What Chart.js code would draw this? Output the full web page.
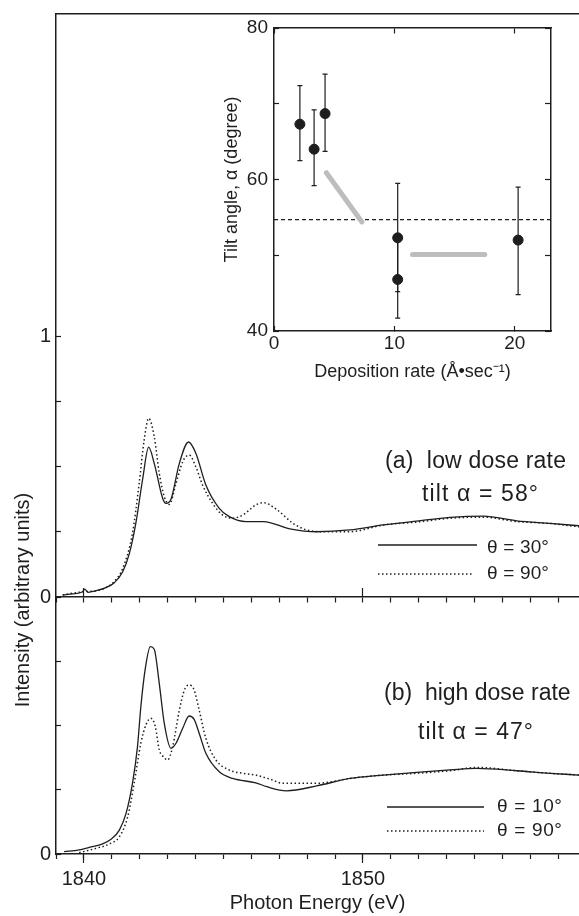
<!DOCTYPE html>
<html lang="en">
<head>
<meta charset="UTF-8" />
<title>S K-edge spectra and tilt angle</title>
<script src="https://cdn.jsdelivr.net/npm/chart.js"></script>
<style>
  html, body { margin: 0; padding: 0; background: #fff; }
  #wrap { position: relative; width: 579px; height: 916px; }
  #mainChart { position: absolute; left: 0; top: 0; }
  #inset { position: absolute; left: 200px; top: 0; }
</style>
</head>
<body>
<div id="wrap">
  <canvas id="mainChart" width="579" height="916"></canvas>
  <canvas id="inset" width="379" height="400"></canvas>
</div>
<script>
  // (a) low dose rate, theta = 30 (solid) and 90 (dotted)
  const aSolidE = [1839.24, 1839.6, 1839.95, 1840.03, 1840.15, 1840.43, 1840.79, 1841.09, 1841.39, 1841.63, 1841.86, 1842.1, 1842.32, 1842.52, 1842.82, 1842.94, 1843.12, 1843.42, 1843.75, 1844.01, 1844.37, 1844.85, 1845.21, 1845.81, 1846.43, 1847.38, 1848.34, 1849.53, 1850.73, 1851.92, 1853.12, 1854.31, 1855.51, 1856.7, 1857.74];
  const aSolidI = [0.008, 0.012, 0.02, 0.03, 0.018, 0.024, 0.036, 0.055, 0.097, 0.168, 0.283, 0.45, 0.576, 0.514, 0.38, 0.36, 0.376, 0.514, 0.596, 0.553, 0.431, 0.341, 0.309, 0.29, 0.29, 0.262, 0.251, 0.258, 0.277, 0.292, 0.306, 0.311, 0.293, 0.283, 0.274];
  const aDotE = [1839.24, 1839.95, 1840.43, 1840.79, 1841.09, 1841.39, 1841.74, 1841.98, 1842.16, 1842.32, 1842.52, 1842.7, 1842.88, 1843.06, 1843.3, 1843.54, 1843.77, 1844.01, 1844.25, 1844.61, 1844.97, 1845.33, 1845.69, 1846.16, 1846.43, 1846.9, 1847.5, 1847.98, 1848.7, 1849.53, 1850.73, 1851.92, 1853.12, 1854.31, 1855.51, 1856.7, 1857.74];
  const aDotI = [0.008, 0.02, 0.024, 0.036, 0.06, 0.11, 0.245, 0.437, 0.604, 0.687, 0.617, 0.476, 0.386, 0.356, 0.437, 0.52, 0.546, 0.501, 0.431, 0.36, 0.315, 0.303, 0.315, 0.354, 0.363, 0.337, 0.283, 0.258, 0.251, 0.251, 0.277, 0.288, 0.303, 0.307, 0.29, 0.283, 0.27];

  // (b) high dose rate, theta = 10 (solid) and 90 (dotted)
  const bSolidE = [1839.29, 1839.83, 1840.19, 1840.67, 1840.97, 1841.27, 1841.51, 1841.74, 1841.92, 1842.04, 1842.2, 1842.38, 1842.52, 1842.7, 1842.88, 1843.12, 1843.3, 1843.54, 1843.77, 1843.95, 1844.13, 1844.37, 1844.85, 1845.33, 1846.16, 1846.55, 1847.26, 1848.34, 1849.53, 1850.73, 1851.92, 1853.12, 1854.07, 1855.51, 1856.7, 1857.74];
  const bSolidI = [0.009, 0.016, 0.026, 0.039, 0.057, 0.093, 0.158, 0.275, 0.418, 0.573, 0.722, 0.807, 0.797, 0.664, 0.508, 0.411, 0.431, 0.489, 0.537, 0.524, 0.47, 0.392, 0.32, 0.294, 0.277, 0.262, 0.246, 0.265, 0.294, 0.307, 0.318, 0.327, 0.333, 0.324, 0.314, 0.307];
  const bDotE = [1839.83, 1840.43, 1840.91, 1841.27, 1841.57, 1841.8, 1842.04, 1842.22, 1842.4, 1842.56, 1842.7, 1842.84, 1843.0, 1843.18, 1843.42, 1843.6, 1843.77, 1843.95, 1844.13, 1844.37, 1844.73, 1845.21, 1845.69, 1846.16, 1846.67, 1847.14, 1848.34, 1849.53, 1850.73, 1851.92, 1853.12, 1854.07, 1855.51, 1856.7, 1857.74];
  const bDotI = [0.005, 0.022, 0.039, 0.067, 0.145, 0.275, 0.431, 0.502, 0.528, 0.495, 0.405, 0.379, 0.366, 0.418, 0.56, 0.638, 0.658, 0.638, 0.56, 0.45, 0.366, 0.327, 0.314, 0.307, 0.291, 0.275, 0.275, 0.294, 0.307, 0.314, 0.324, 0.337, 0.324, 0.314, 0.307];

  const eMin = 1839, eMax = 1857.74;
  const eTicks = [1839, 1840, 1841, 1842, 1843, 1844, 1845, 1846, 1847, 1848, 1849, 1850, 1851, 1852, 1853, 1854, 1855, 1856, 1857];
  const eLabels = [1840, 1850];
  const aMax = 2.242, bMax = 1.0;
  const aTicks = [0, 0.25, 0.5, 0.75, 1];
  const aLabels = [0, 1];
  const bTicks = [0, 0.25, 0.5, 0.75];
  const bLabels = [0];

  // inset: tilt angle vs deposition rate
  const rate = [2.15, 3.33, 4.24, 10.27, 10.27, 20.27];
  const tilt = [67.3, 64.0, 68.7, 52.3, 46.8, 52.0];
  const tiltLow = [62.5, 59.2, 63.7, 45.2, 41.7, 44.8];
  const tiltHigh = [72.4, 69.2, 73.9, 59.5, 51.9, 59.0];
  const magicAngle = 54.7;
  const guide1X = [4.35, 7.3], guide1Y = [60.9, 54.4];
  const guide2X = [11.5, 17.5], guide2Y = [50.1, 50.1];
  const rateMax = 23, tiltMin = 40, tiltMax = 80;
  const rateTicks = [0, 10, 20];
  const tiltTicks = [40, 50, 60, 70, 80];
  const tiltLabels = [40, 60, 80];

  const ink = '#1e1e1e';
  const family = '"Liberation Sans", Arial, Helvetica, sans-serif';
  Chart.defaults.font.family = family;
  Chart.defaults.color = ink;

  const pts = (xs, ys) => xs.map((x, i) => ({ x: x, y: ys[i] }));
  const setTicks = vals => s => { s.ticks = vals.map(v => ({ value: v })); };
  const fixed = (w, h) => s => {
    if (w != null) s.width = w;
    if (h != null) s.height = h;
    s.paddingLeft = s.paddingRight = s.paddingTop = s.paddingBottom = 0;
  };
  const only = list => v => list.includes(v) ? String(v) : '';

  function curve(xs, ys, axis, dotted) {
    return {
      data: pts(xs, ys),
      yAxisID: axis,
      borderColor: ink,
      borderWidth: dotted ? 1.5 : 1.3,
      borderDash: dotted ? [1.5, 2.5] : [],
      pointRadius: 0,
      cubicInterpolationMode: 'monotone',
      fill: false
    };
  }

  function overlayX(pos, ticks, len, border) {
    return {
      axis: 'x', type: 'linear', min: eMin, max: eMax, position: pos,
      afterBuildTicks: setTicks(ticks), afterFit: fixed(),
      grid: { drawOnChartArea: false, drawTicks: len !== 0, color: ink, tickLength: len, tickWidth: 1.2 },
      border: { display: border, color: ink, width: 1.5 },
      ticks: { display: false }
    };
  }

  // stretch spacing a little so each note ends where it does in the figure
  function fitText(ctx, text, left, cy, size, right) {
    ctx.font = size + 'px ' + family;
    ctx.letterSpacing = '0px';
    const w = ctx.measureText(text).width;
    const extra = (right - left - w) / Math.max(text.length - 1, 1);
    ctx.letterSpacing = Math.max(0, Math.min(extra, 1.5)).toFixed(2) + 'px';
    ctx.fillText(text, left, cy);
    ctx.letterSpacing = '0px';
  }

  const notes = {
    id: 'notes',
    afterDraw(chart) {
      const ctx = chart.ctx;
      ctx.save();
      ctx.fillStyle = ink;
      ctx.textBaseline = 'middle';

      ctx.save();
      ctx.translate(23, 600);
      ctx.rotate(-Math.PI / 2);
      ctx.textAlign = 'center';
      ctx.font = '20px ' + family;
      ctx.fillText('Intensity (arbitrary units)', 0, 0);
      ctx.restore();

      ctx.textAlign = 'left';
      fitText(ctx, '(a)  low dose rate', 385, 462, 23, 566);
      fitText(ctx, 'tilt \u03b1 = 58\u00b0', 422, 495, 23, 538);
      fitText(ctx, '\u03b8 = 30\u00b0', 487, 548, 19, 549);
      fitText(ctx, '\u03b8 = 90\u00b0', 487, 574, 19, 549);
      fitText(ctx, '(b)  high dose rate', 384, 694, 23, 568);
      fitText(ctx, 'tilt \u03b1 = 47\u00b0', 418, 733, 23, 533);
      fitText(ctx, '\u03b8 = 10\u00b0', 497, 807, 19, 562);
      fitText(ctx, '\u03b8 = 90\u00b0', 497, 831, 19, 562);

      // legend samples
      ctx.strokeStyle = ink;
      [[378, 477, 545, false], [378, 473, 574, true], [387, 484, 807, false], [387, 484, 831, true]]
        .forEach(([x1, x2, y, dotted]) => {
          ctx.lineWidth = dotted ? 1.5 : 1.3;
          ctx.setLineDash(dotted ? [1.5, 2.5] : []);
          ctx.beginPath();
          ctx.moveTo(x1, y);
          ctx.lineTo(x2, y);
          ctx.stroke();
        });
      ctx.restore();
    }
  };

  new Chart(document.getElementById('mainChart'), {
    type: 'line',
    data: {
      datasets: [
        curve(aSolidE, aSolidI, 'yA', false),
        curve(aDotE, aDotI, 'yA', true),
        curve(bSolidE, bSolidI, 'yB', false),
        curve(bDotE, bDotI, 'yB', true)
      ]
    },
    options: {
      responsive: false,
      animation: false,
      events: [],
      layout: { padding: { top: 14, left: 0, right: 0, bottom: 0 } },
      plugins: { legend: { display: false }, tooltip: { enabled: false } },
      scales: {
        x: {
          type: 'linear', min: eMin, max: eMax, position: 'bottom',
          afterBuildTicks: setTicks(eTicks), afterFit: fixed(null, 62),
          grid: { drawOnChartArea: false, color: ink, tickLength: 5, tickWidth: 1.2 },
          border: { color: ink, width: 1.5 },
          ticks: { autoSkip: false, maxRotation: 0, padding: 8, font: { size: 20 }, callback: only(eLabels) },
          title: { display: true, text: 'Photon Energy (eV)', font: { size: 20 }, padding: { top: 0, bottom: 1 } }
        },
        xMaj: overlayX({ yB: 0 }, eLabels, 9, false),
        xMid: overlayX({ yA: 0 }, eTicks, 5, true),
        xMidMaj: overlayX({ yA: 0 }, eLabels, -9, false),
        xTop: overlayX({ yA: aMax }, [], 0, true),
        yA: {
          type: 'linear', position: 'left', stack: 'main', stackWeight: 583, weight: 1,
          min: 0, max: aMax,
          afterBuildTicks: setTicks(aTicks), afterFit: fixed(56, null),
          grid: { drawOnChartArea: false, color: ink, tickLength: -5, tickWidth: 1.2 },
          border: { color: ink, width: 1.5 },
          ticks: { padding: 10, font: { size: 20 }, callback: only(aLabels) }
        },
        yB: {
          type: 'linear', position: 'left', stack: 'main', stackWeight: 257, weight: 0,
          min: 0, max: bMax,
          afterBuildTicks: setTicks(bTicks), afterFit: fixed(56, null),
          grid: { drawOnChartArea: false, color: ink, tickLength: -5, tickWidth: 1.2 },
          border: { color: ink, width: 1.5 },
          ticks: { padding: 10, font: { size: 20 }, callback: only(bLabels) }
        }
      }
    },
    plugins: [notes]
  });

  const errorBars = {
    id: 'errorBars',
    beforeDatasetsDraw(chart) {
      const { ctx, scales: { x, y } } = chart;
      ctx.save();
      ctx.strokeStyle = ink;
      ctx.lineWidth = 1.2;
      rate.forEach((r, i) => {
        const px = x.getPixelForValue(r);
        const lo = y.getPixelForValue(tiltLow[i]);
        const hi = y.getPixelForValue(tiltHigh[i]);
        ctx.beginPath();
        ctx.moveTo(px, lo); ctx.lineTo(px, hi);
        ctx.moveTo(px - 2.5, lo); ctx.lineTo(px + 2.5, lo);
        ctx.moveTo(px - 2.5, hi); ctx.lineTo(px + 2.5, hi);
        ctx.stroke();
      });
      ctx.restore();
    }
  };

  const insetTick = { drawOnChartArea: false, color: ink, tickWidth: 1.2 };

  new Chart(document.getElementById('inset'), {
    type: 'scatter',
    data: {
      datasets: [
        { data: pts(guide1X, guide1Y), showLine: true, borderColor: '#bdbdbd', borderWidth: 5, borderCapStyle: 'round', pointRadius: 0 },
        { data: pts(guide2X, guide2Y), showLine: true, borderColor: '#bdbdbd', borderWidth: 5, borderCapStyle: 'round', pointRadius: 0 },
        { data: [{ x: 0, y: magicAngle }, { x: rateMax, y: magicAngle }], showLine: true, borderColor: ink, borderWidth: 1.2, borderDash: [4, 3], pointRadius: 0 },
        { data: pts(rate, tilt), showLine: false, pointRadius: 5, backgroundColor: ink, borderColor: ink }
      ]
    },
    options: {
      responsive: false,
      animation: false,
      events: [],
      layout: { padding: { top: 28, right: 28, bottom: 17, left: 0 } },
      plugins: { legend: { display: false }, tooltip: { enabled: false } },
      scales: {
        x: {
          type: 'linear', min: 0, max: rateMax, position: 'bottom',
          afterBuildTicks: setTicks(rateTicks), afterFit: fixed(null, 52),
          grid: Object.assign({ tickLength: -5 }, insetTick),
          border: { color: ink, width: 1.5 },
          ticks: { autoSkip: false, maxRotation: 0, padding: 6, font: { size: 19 } },
          title: { display: true, text: 'Deposition rate (\u00c5\u2022sec\u207b\u00b9)', font: { size: 18 }, padding: { top: 0, bottom: 0 } }
        },
        xT: {
          axis: 'x', type: 'linear', min: 0, max: rateMax, position: { y: tiltMax },
          afterBuildTicks: setTicks(rateTicks), afterFit: fixed(),
          grid: Object.assign({ tickLength: 5 }, insetTick),
          border: { color: ink, width: 1.5 },
          ticks: { display: false }
        },
        y: {
          type: 'linear', min: tiltMin, max: tiltMax, position: 'left',
          afterBuildTicks: setTicks(tiltTicks), afterFit: fixed(74, null),
          grid: Object.assign({ tickLength: -5 }, insetTick),
          border: { color: ink, width: 1.5 },
          ticks: { padding: 11, font: { size: 19 }, callback: only(tiltLabels) },
          title: { display: true, text: 'Tilt angle, \u03b1 (degree)', font: { size: 18 }, padding: { top: 21, bottom: 0 } }
        },
        yR: {
          axis: 'y', type: 'linear', min: tiltMin, max: tiltMax, position: { x: rateMax },
          afterBuildTicks: setTicks(tiltTicks), afterFit: fixed(),
          grid: Object.assign({ tickLength: 5 }, insetTick),
          border: { color: ink, width: 1.5 },
          ticks: { display: false }
        }
      }
    },
    plugins: [errorBars]
  });
</script>
</body>
</html>
